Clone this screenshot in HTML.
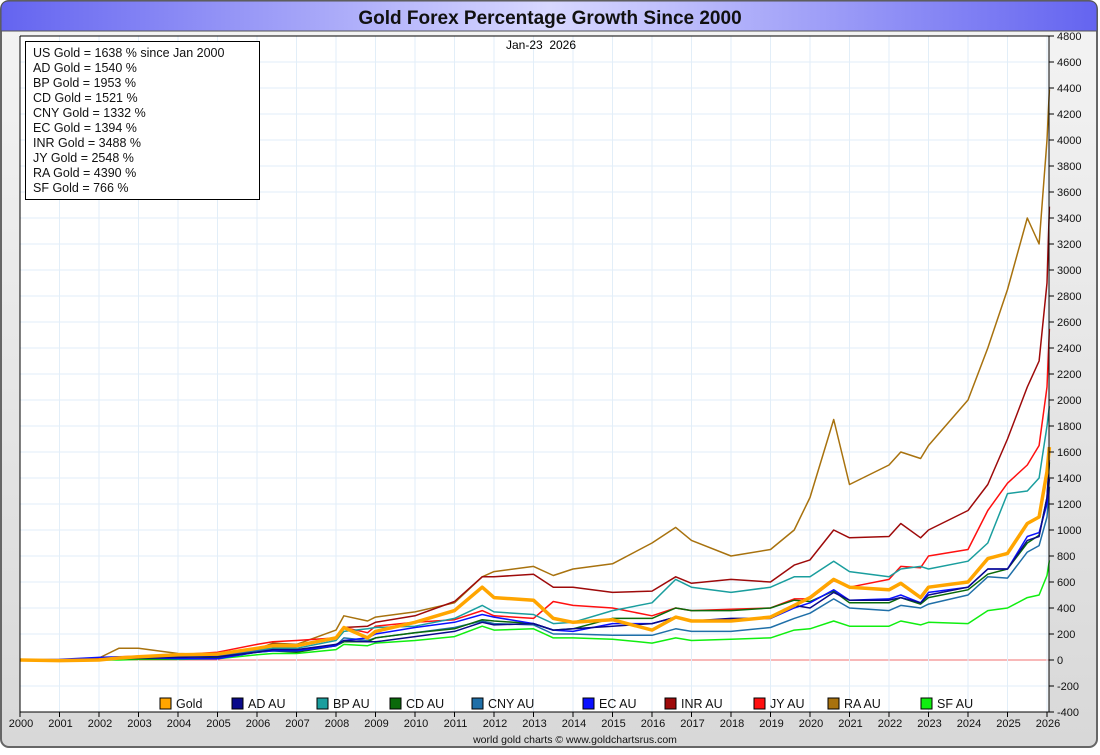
<!DOCTYPE html>
<html><head><meta charset="utf-8"><style>
body{margin:0;width:1100px;height:750px;overflow:hidden;background:#fff;font-family:"Liberation Sans",sans-serif;}
</style></head><body>
<svg width="1100" height="750" xmlns="http://www.w3.org/2000/svg">
<defs>
<linearGradient id="tg" x1="0" x2="1" y1="0" y2="0"><stop offset="0" stop-color="#6464f0"/><stop offset="0.5" stop-color="#d8d8ff"/><stop offset="1" stop-color="#6464f0"/></linearGradient>
<linearGradient id="bg" x1="0" x2="0" y1="0" y2="1"><stop offset="0" stop-color="#f4f4f4"/><stop offset="1" stop-color="#d8d8d8"/></linearGradient>
</defs>
<rect x="1" y="1" width="1096" height="746" rx="8" fill="url(#bg)" stroke="#666" stroke-width="2"/>
<path d="M1,31 L1,9 Q1,1 9,1 L1089,1 Q1097,1 1097,9 L1097,31 Z" fill="url(#tg)" stroke="#555"/>
<text x="550" y="24" text-anchor="middle" font-size="19" font-weight="bold" fill="#111">Gold Forex Percentage Growth Since 2000</text>
<rect x="20" y="36" width="1029" height="676" fill="#fff"/>
<g id="grid"></g>
<g id="series"></g>
<line x1="20" y1="36" x2="20" y2="712" stroke="#000"/>
<line x1="1049" y1="36" x2="1049" y2="712" stroke="#000"/>
<line x1="20" y1="712" x2="1049" y2="712" stroke="#000"/>
<line x1="20" y1="36" x2="1049" y2="36" stroke="#000"/>
<g id="ticks" font-size="11" fill="#111"></g>
<text x="541" y="49" text-anchor="middle" font-size="12">Jan-23&#160;&#160;2026</text>
<g font-size="12.5" fill="#111">
<rect x="25.5" y="41.5" width="234" height="158" fill="#fff" stroke="#000"/>
<text x="33" y="57">US Gold = 1638 % since Jan 2000</text>
<text x="33" y="72">AD Gold = 1540 %</text>
<text x="33" y="87">BP Gold = 1953 %</text>
<text x="33" y="102">CD Gold = 1521 %</text>
<text x="33" y="117">CNY Gold = 1332 %</text>
<text x="33" y="132">EC Gold = 1394 %</text>
<text x="33" y="147">INR Gold = 3488 %</text>
<text x="33" y="162">JY Gold = 2548 %</text>
<text x="33" y="177">RA Gold = 4390 %</text>
<text x="33" y="192">SF Gold = 766 %</text>
</g>
<g id="legend" font-size="12.5" fill="#111"></g>
<text x="575" y="743" text-anchor="middle" font-size="10.5" fill="#111">world gold charts © www.goldchartsrus.com</text>
</svg>
<script>
const times=[2000,2001,2002,2002.5,2003,2004,2005,2006,2006.4,2007,2008,2008.2,2008.8,2009,2010,2011,2011.7,2012,2013,2013.5,2014,2015,2016,2016.6,2017,2018,2019,2019.6,2020,2020.6,2021,2022,2022.3,2022.8,2023,2024,2024.5,2025,2025.5,2025.8,2026,2026.06];
const seriesNames=["RA AU","INR AU","JY AU","BP AU","SF AU","CNY AU","CD AU","EC AU","AD AU","Gold"];
const raVals=[0,-5,15,90,90,50,40,80,130,120,230,340,300,330,370,440,640,680,720,650,700,740,900,1020,920,800,850,1000,1250,1850,1350,1500,1600,1550,1650,2000,2400,2850,3400,3200,4000,4390];
const inrVals=[0,0,5,15,20,30,40,90,120,110,170,250,260,290,340,450,640,640,660,560,560,520,530,640,590,620,600,730,770,1000,940,950,1050,940,1000,1150,1350,1700,2100,2300,2900,3488];
const jyVals=[0,-5,10,25,30,40,60,120,140,150,170,250,210,260,290,310,380,340,320,450,420,400,340,400,380,390,400,470,470,610,560,620,720,710,800,850,1150,1360,1500,1650,2100,2548];
const bpVals=[0,-5,5,15,20,25,30,80,90,90,150,220,240,250,260,320,420,370,350,280,290,380,440,620,560,520,560,640,640,760,680,640,700,720,700,760,900,1280,1300,1400,1800,1953];
const sfVals=[0,-5,0,0,5,5,10,40,50,50,80,120,110,130,150,180,260,230,240,170,170,160,130,170,150,160,170,230,240,300,260,260,300,270,290,280,380,400,480,500,650,766];
const cnyVals=[0,-5,0,10,15,25,30,70,80,70,110,170,150,170,210,250,300,280,270,200,200,190,190,240,220,220,250,320,360,470,400,380,420,400,430,500,640,630,830,880,1100,1332];
const cdVals=[0,0,0,10,10,10,15,60,70,60,110,140,140,170,210,240,310,300,280,230,240,320,320,400,380,380,400,460,450,530,440,440,480,430,480,540,660,700,900,960,1250,1521];
const ecVals=[0,5,20,25,20,10,10,60,70,70,110,150,170,200,250,290,350,330,280,230,220,280,280,330,300,310,320,400,440,540,460,470,500,440,520,560,700,700,950,980,1200,1394];
const adVals=[0,0,5,10,15,20,25,60,80,80,120,150,140,140,180,220,290,270,280,230,240,260,280,330,300,320,320,420,400,520,460,460,480,440,500,560,700,700,920,950,1250,1540];
const goldVals=[0,-5,0,15,25,40,45,90,110,110,170,250,170,220,290,380,560,480,460,320,290,310,230,330,300,300,330,420,480,620,560,540,590,480,560,600,780,820,1050,1100,1450,1638];
const yTicks=[-400,-200,0,200,400,600,800,1000,1200,1400,1600,1800,2000,2200,2400,2600,2800,3000,3200,3400,3600,3800,4000,4200,4400,4600,4800];
const xTicks=[2000,2001,2002,2003,2004,2005,2006,2007,2008,2009,2010,2011,2012,2013,2014,2015,2016,2017,2018,2019,2020,2021,2022,2023,2024,2025,2026];
const NS="http://www.w3.org/2000/svg";
const X=t=>20+(t-2000)*(1027/26);
const Y=v=>660-v*26/200;
function mk(tag,attrs,parent){const e=document.createElementNS(NS,tag);for(const k in attrs)e.setAttribute(k,attrs[k]);parent.appendChild(e);return e;}
const grid=document.getElementById('grid'),ticks=document.getElementById('ticks');
yTicks.forEach(v=>{
  const l=mk('line',{x1:20,x2:1049,y1:Y(v),y2:Y(v),stroke:v===0?'#f07070':'#e2eef8','stroke-width':1},grid);
  
  
  mk('line',{x1:1049,x2:1054,y1:Y(v),y2:Y(v),stroke:'#000'},ticks);
  const t=mk('text',{x:1057,y:Y(v)+4},ticks);t.textContent=v;
  
  
});
xTicks.forEach(yr=>{
  const l=mk('line',{x1:X(yr),x2:X(yr),y1:36,y2:712,stroke:'#e2eef8'},grid);
  
  
  mk('line',{x1:X(yr),x2:X(yr),y1:712,y2:717,stroke:'#000'},ticks);
  const t=mk('text',{x:X(yr)+1,y:727,'text-anchor':'middle'},ticks);t.textContent=yr;
  
  
});
const valsList=[raVals,inrVals,jyVals,bpVals,sfVals,cnyVals,cdVals,ecVals,adVals,goldVals];
const colors=["#a8720e","#9e0a0a","#ff1010","#1a9e9e","#10ee10","#1f6fa8","#0a6a0a","#0a10ff","#0a0a8a","#ffa500"];
const keys=["ra","inr","jy","bp","sf","cny","cd","ec","ad","gold"];
const sg=document.getElementById('series');
valsList.forEach((vals,i)=>{
  const pts=vals.map((v,j)=>X(times[j]).toFixed(1)+','+Y(v).toFixed(1)).join(' ');
  const p=mk('polyline',{points:pts,fill:'none',stroke:colors[i],'stroke-width':keys[i]==='gold'?3.5:1.5,'stroke-linejoin':'round'},sg);
  
  
});
const legendOrder=[9,8,3,6,5,7,1,2,0,4];
const legX=[160,232,317,390,472,583,665,754,828,921];
const lg=document.getElementById('legend');
legendOrder.forEach((i,k)=>{
  const g=mk('g',{},lg);
  
  
  mk('rect',{x:legX[k],y:698,width:11,height:11,fill:colors[i],stroke:'#000'},g);
  const t=mk('text',{x:legX[k]+16,y:708},g);t.textContent=seriesNames[i];
});
</script>
</body></html>
